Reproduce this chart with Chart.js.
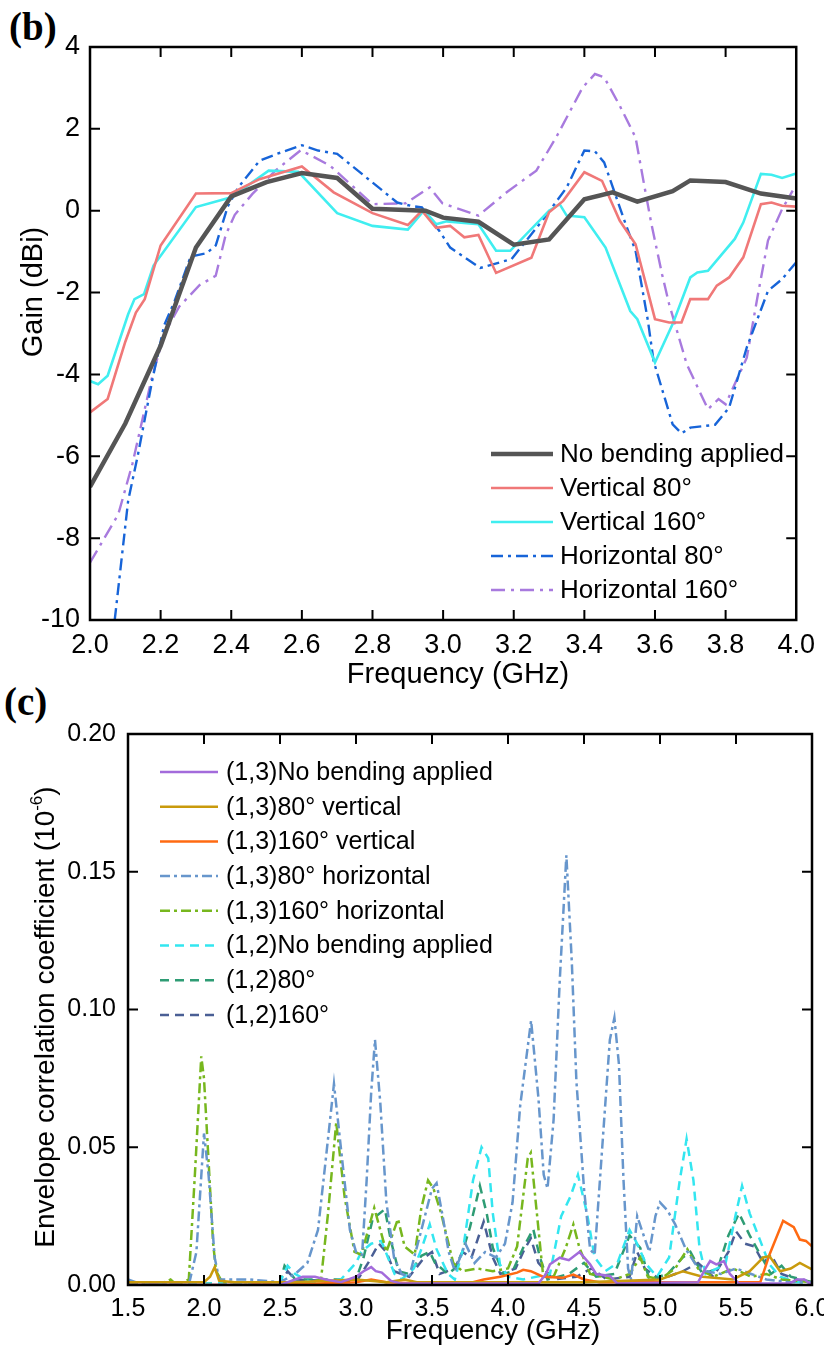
<!DOCTYPE html>
<html>
<head>
<meta charset="utf-8">
<script src="https://cdn.jsdelivr.net/npm/chart.js@4.4.1/dist/chart.umd.min.js"></script>
<style>
  html, body { margin: 0; padding: 0; background: #fff; overflow: hidden; }
  body { width: 824px; height: 1348px; position: relative; }
  canvas { position: absolute; left: 0; }
  .panel { position: absolute; font-family: "Liberation Serif", "Times New Roman", serif; font-weight: bold; font-size: 39px; line-height: 39px; color: #000; }
</style>
</head>
<body>
<div class="panel" style="left:9px; top:7px;">(b)</div>
<div class="panel" style="left:4px; top:682px;">(c)</div>
<canvas id="gain" width="824" height="700" style="top:0; width:824px; height:700px;"></canvas>
<canvas id="ecc" width="840" height="658" style="top:690px; width:840px; height:658px;"></canvas>
<script>
// ---------- (b) gain vs frequency ----------
var gainTicksX = [2.0, 2.2, 2.4, 2.6, 2.8, 3.0, 3.2, 3.4, 3.6, 3.8, 4.0];
var gainTicksY = [-10, -8, -6, -4, -2, 0, 2, 4];

var fNoBend = [2.0, 2.1, 2.2, 2.3, 2.4, 2.5, 2.6, 2.7, 2.8, 2.95, 3.0, 3.1, 3.2, 3.3, 3.4, 3.48, 3.55, 3.65, 3.7, 3.8, 3.9, 4.0];
var gNoBend = [-6.75, -5.2, -3.3, -0.9, 0.35, 0.7, 0.92, 0.8, 0.05, 0.0, -0.17, -0.27, -0.83, -0.7, 0.28, 0.45, 0.22, 0.48, 0.74, 0.7, 0.42, 0.3];

var fVert80 = [2.0, 2.05, 2.1, 2.13, 2.155, 2.2, 2.3, 2.4, 2.48, 2.6, 2.69, 2.8, 2.9, 2.94, 2.98, 3.02, 3.06, 3.1, 3.15, 3.25, 3.3, 3.34, 3.4, 3.45, 3.5, 3.545, 3.6, 3.64, 3.675, 3.7, 3.75, 3.775, 3.81, 3.85, 3.9, 3.93, 3.96, 4.0];
var gVert80 = [-4.93, -4.6, -3.2, -2.49, -2.16, -0.85, 0.42, 0.43, 0.77, 1.08, 0.45, -0.06, -0.35, 0.0, -0.42, -0.37, -0.65, -0.59, -1.52, -1.15, -0.04, 0.24, 0.94, 0.73, -0.24, -0.82, -2.65, -2.73, -2.73, -2.16, -2.16, -1.83, -1.63, -1.14, 0.16, 0.2, 0.12, 0.1];

var fVert160 = [2.0, 2.023, 2.05, 2.108, 2.126, 2.153, 2.18, 2.3, 2.4, 2.506, 2.59, 2.7, 2.8, 2.9, 2.946, 2.98, 3.01, 3.1, 3.15, 3.19, 3.3, 3.33, 3.35, 3.4, 3.46, 3.53, 3.55, 3.6, 3.65, 3.7, 3.72, 3.75, 3.826, 3.85, 3.9, 3.93, 3.96, 4.0];
var gVert160 = [-4.16, -4.24, -4.03, -2.53, -2.16, -2.04, -1.34, 0.09, 0.33, 0.98, 0.95, -0.06, -0.37, -0.46, 0.01, -0.33, -0.26, -0.33, -0.98, -0.98, 0.0, 0.16, -0.12, -0.16, -0.9, -2.45, -2.65, -3.71, -2.77, -1.63, -1.51, -1.47, -0.69, -0.29, 0.9, 0.88, 0.8, 0.91];

var fHor80 = [2.07, 2.108, 2.136, 2.178, 2.21, 2.24, 2.285, 2.33, 2.356, 2.39, 2.42, 2.48, 2.53, 2.6, 2.646, 2.7, 2.8, 2.87, 2.908, 2.94, 2.99, 3.02, 3.105, 3.194, 3.29, 3.35, 3.4, 3.43, 3.456, 3.517, 3.545, 3.58, 3.596, 3.65, 3.675, 3.7, 3.77, 3.81, 3.86, 3.92, 3.96, 4.0];
var gHor80 = [-10.0, -7.09, -5.95, -4.07, -2.8, -2.2, -1.12, -1.04, -0.85, 0.1, 0.57, 1.22, 1.39, 1.6, 1.47, 1.39, 0.69, 0.2, 0.12, 0.08, -0.5, -0.9, -1.4, -1.18, -0.14, 0.57, 1.47, 1.45, 1.18, -0.33, -0.98, -2.69, -3.67, -5.22, -5.44, -5.3, -5.23, -4.81, -3.34, -1.96, -1.67, -1.26];

var fHor160 = [2.0, 2.08, 2.12, 2.173, 2.21, 2.253, 2.31, 2.356, 2.384, 2.41, 2.46, 2.525, 2.597, 2.68, 2.8, 2.894, 2.962, 2.998, 3.1, 3.18, 3.264, 3.32, 3.395, 3.43, 3.456, 3.5, 3.545, 3.57, 3.59, 3.62, 3.64, 3.69, 3.75, 3.78, 3.8, 3.86, 3.89, 3.92, 3.96, 3.99];
var gHor160 = [-8.6, -7.42, -6.19, -4.16, -3.01, -2.34, -1.82, -1.59, -0.6, -0.1, 0.41, 0.98, 1.48, 1.1, 0.16, 0.18, 0.57, 0.18, -0.12, 0.45, 0.98, 1.79, 3.01, 3.34, 3.26, 2.57, 1.79, 0.6, -0.33, -1.55, -2.28, -3.75, -4.85, -4.6, -4.73, -3.59, -2.12, -0.73, 0.04, 0.49];

// ---------- (c) envelope correlation coefficient ----------
var eccTicksX = [1.5, 2.0, 2.5, 3.0, 3.5, 4.0, 4.5, 5.0, 5.5, 6.0];
var eccTicksY = [0.00, 0.05, 0.10, 0.15, 0.20];

var fE13NoBend = [1.5, 2.5, 2.6, 2.65, 2.73, 2.8, 2.9, 3.0, 3.05, 3.1, 3.13, 3.17, 3.23, 3.3, 4.2, 4.25, 4.276, 4.34, 4.4, 4.47, 4.54, 4.58, 4.67, 4.72, 5.25, 5.3, 5.33, 5.37, 5.42, 5.46, 5.52, 5.85, 5.9, 5.95, 6.0];
var eE13NoBend = [0.0, 0.0, 0.002, 0.003, 0.003, 0.002, 0.001, 0.003, 0.005, 0.0065, 0.005, 0.0045, 0.0015, 0.0005, 0.0005, 0.004, 0.0075, 0.0099, 0.009, 0.012, 0.0075, 0.004, 0.0033, 0.0005, 0.001, 0.006, 0.0087, 0.0075, 0.0087, 0.004, 0.0005, 0.0005, 0.002, 0.002, 0.0];

var fE13V80 = [1.5, 1.95, 2.0, 2.04, 2.07, 2.1, 2.2, 2.6, 3.0, 3.2, 3.32, 3.4, 4.0, 4.5, 5.0, 5.15, 5.28, 5.48, 5.59, 5.68, 5.72, 5.79, 5.86, 5.92, 6.0];
var eE13V80 = [0.001, 0.001, 0.001, 0.003, 0.0065, 0.0015, 0.001, 0.001, 0.002, 0.001, 0.002, 0.001, 0.001, 0.001, 0.002, 0.005, 0.003, 0.002, 0.005, 0.01, 0.0105, 0.005, 0.006, 0.008, 0.0057];

var fE13V160 = [1.5, 2.3, 2.38, 2.45, 3.0, 3.1, 3.2, 3.7, 3.84, 3.95, 4.06, 4.1, 4.15, 4.23, 4.36, 4.43, 4.5, 4.6, 5.66, 5.72, 5.81, 5.88, 5.92, 5.96, 6.0];
var eE13V160 = [0.0, 0.0, 0.001, 0.0, 0.001, 0.002, 0.001, 0.0, 0.002, 0.003, 0.0045, 0.0055, 0.005, 0.003, 0.0026, 0.0038, 0.002, 0.001, 0.001, 0.011, 0.0233, 0.021, 0.0165, 0.016, 0.014];

var fE13H80 = [1.5, 1.55, 1.9, 1.95, 2.0, 2.03, 2.07, 2.1, 2.3, 2.5, 2.6, 2.68, 2.75, 2.8, 2.855, 2.91, 2.96, 3.0, 3.04, 3.07, 3.1, 3.125, 3.16, 3.2, 3.25, 3.3, 3.35, 3.43, 3.5, 3.53, 3.57, 3.61, 3.65, 3.72, 3.78, 3.85, 3.92, 3.98, 4.03, 4.08, 4.152, 4.2, 4.235, 4.26, 4.3, 4.34, 4.384, 4.42, 4.45, 4.5, 4.54, 4.57, 4.62, 4.67, 4.7, 4.73, 4.76, 4.79, 4.81, 4.85, 4.88, 4.93, 4.97, 5.0, 5.05, 5.1, 5.17, 5.24, 5.3, 5.4, 5.5, 5.6, 5.7, 5.85, 6.0];
var eE13H80 = [0.002, 0.001, 0.0, 0.012, 0.055, 0.04, 0.01, 0.002, 0.002, 0.001, 0.004, 0.008, 0.02, 0.045, 0.073, 0.045, 0.02, 0.012, 0.011, 0.038, 0.07, 0.089, 0.066, 0.03, 0.01, 0.004, 0.003, 0.02, 0.035, 0.037, 0.025, 0.012, 0.005, 0.015, 0.008, 0.012, 0.01, 0.015, 0.03, 0.065, 0.096, 0.068, 0.04, 0.035, 0.06, 0.11, 0.156, 0.117, 0.074, 0.035, 0.013, 0.011, 0.05, 0.089, 0.097, 0.08, 0.038, 0.006, 0.002, 0.025, 0.02, 0.012, 0.025, 0.03, 0.027, 0.022, 0.013, 0.007, 0.005, 0.004, 0.006, 0.004, 0.002, 0.001, 0.001];

var fE13H160 = [1.5, 1.7, 1.78, 1.82, 1.9, 1.94, 1.982, 2.0, 2.03, 2.06, 2.08, 2.12, 2.5, 2.7, 2.77, 2.816, 2.87, 2.925, 2.99, 3.035, 3.08, 3.12, 3.2, 3.276, 3.32, 3.386, 3.43, 3.474, 3.51, 3.56, 3.64, 3.7, 3.8, 3.9, 4.0, 4.06, 4.13, 4.15, 4.19, 4.23, 4.3, 4.38, 4.43, 4.47, 4.54, 4.7, 4.8, 4.87, 4.92, 5.0, 5.1, 5.18, 5.25, 5.35, 5.48, 5.6, 5.7, 5.8, 6.0];
var eE13H160 = [0.001, 0.0, 0.002, 0.0, 0.002, 0.04, 0.083, 0.075, 0.045, 0.015, 0.005, 0.001, 0.001, 0.001, 0.002, 0.026, 0.059, 0.032, 0.012, 0.011, 0.02, 0.028, 0.012, 0.024, 0.014, 0.011, 0.028, 0.038, 0.035, 0.026, 0.008, 0.005, 0.006, 0.005, 0.006, 0.014, 0.046, 0.048, 0.026, 0.004, 0.003, 0.0135, 0.022, 0.0135, 0.004, 0.002, 0.004, 0.01, 0.003, 0.002, 0.006, 0.013, 0.006, 0.003, 0.006, 0.003, 0.004, 0.002, 0.001];

var fE12NoBend = [1.5, 2.5, 2.55, 2.6, 2.7, 2.9, 3.0, 3.035, 3.1, 3.167, 3.21, 3.254, 3.3, 3.38, 3.43, 3.485, 3.53, 3.605, 3.65, 3.706, 3.77, 3.826, 3.87, 3.9, 3.947, 4.0, 4.1, 4.276, 4.35, 4.41, 4.46, 4.52, 4.57, 4.64, 4.72, 4.8, 4.84, 4.91, 4.98, 5.06, 5.13, 5.175, 5.22, 5.26, 5.3, 5.43, 5.5, 5.54, 5.59, 5.66, 5.72, 5.79, 5.9, 6.0];
var eE12NoBend = [0.0, 0.001, 0.007, 0.004, 0.001, 0.002, 0.008, 0.012, 0.015, 0.016, 0.01, 0.004, 0.002, 0.006, 0.013, 0.022, 0.013, 0.004, 0.002, 0.0135, 0.038, 0.05, 0.046, 0.026, 0.0075, 0.003, 0.002, 0.004, 0.025, 0.032, 0.04, 0.026, 0.01, 0.005, 0.008, 0.02, 0.016, 0.0075, 0.003, 0.01, 0.038, 0.053, 0.038, 0.0135, 0.004, 0.0075, 0.026, 0.036, 0.026, 0.016, 0.0075, 0.003, 0.001, 0.001];

var fE12B80 = [1.5, 2.5, 2.53, 2.56, 2.6, 3.0, 3.05, 3.11, 3.19, 3.23, 3.28, 3.35, 3.43, 3.485, 3.52, 3.605, 3.65, 3.7, 3.75, 3.815, 3.86, 3.9, 3.97, 4.03, 4.1, 4.166, 4.21, 4.26, 4.4, 4.5, 4.58, 4.7, 4.8, 4.87, 4.93, 5.05, 5.15, 5.2, 5.28, 5.38, 5.45, 5.52, 5.59, 5.66, 5.73, 5.8, 5.86, 6.0];
var eE12B80 = [0.0, 0.001, 0.007, 0.005, 0.002, 0.002, 0.01, 0.024, 0.0275, 0.016, 0.005, 0.004, 0.0106, 0.012, 0.008, 0.004, 0.006, 0.012, 0.021, 0.036, 0.026, 0.0135, 0.004, 0.005, 0.0135, 0.0203, 0.01, 0.002, 0.004, 0.008, 0.003, 0.004, 0.018, 0.0135, 0.002, 0.004, 0.01, 0.012, 0.004, 0.006, 0.018, 0.026, 0.018, 0.011, 0.004, 0.007, 0.003, 0.001];

var fE12B160 = [1.5, 2.5, 2.55, 2.6, 3.0, 3.08, 3.15, 3.2, 3.25, 3.35, 3.45, 3.5, 3.55, 3.65, 3.7, 3.76, 3.84, 3.9, 3.95, 4.05, 4.1, 4.15, 4.2, 4.3, 4.45, 4.55, 4.65, 4.8, 4.85, 4.9, 5.0, 5.15, 5.25, 5.35, 5.45, 5.5, 5.56, 5.62, 5.68, 5.73, 5.8, 5.9, 6.0];
var eE12B160 = [0.0, 0.0, 0.005, 0.002, 0.001, 0.008, 0.015, 0.012, 0.005, 0.003, 0.01, 0.012, 0.004, 0.006, 0.012, 0.01, 0.023, 0.01, 0.004, 0.006, 0.012, 0.017, 0.008, 0.002, 0.003, 0.006, 0.002, 0.003, 0.012, 0.006, 0.002, 0.005, 0.008, 0.003, 0.012, 0.0195, 0.015, 0.014, 0.008, 0.011, 0.004, 0.002, 0.0];

function pts(fs, vs) {
  return fs.map(function (f, i) { return { x: f, y: vs[i] }; });
}

// frame, inward ticks, legend and axis titles drawn on top of the plot
var decor = {
  id: 'decor',
  afterDraw: function (chart, args, o) {
    var ctx = chart.ctx, a = chart.chartArea;
    var sx = chart.scales.x, sy = chart.scales.y;
    ctx.save();
    ctx.setLineDash([]);
    ctx.strokeStyle = '#000';
    ctx.lineWidth = 2;
    ctx.beginPath();
    sx.ticks.forEach(function (t) {
      var px = sx.getPixelForValue(t.value);
      if (px < a.left + 2 || px > a.right - 2) return;
      ctx.moveTo(px, a.bottom); ctx.lineTo(px, a.bottom - o.tickLen);
      ctx.moveTo(px, a.top); ctx.lineTo(px, a.top + o.tickLen);
    });
    sy.ticks.forEach(function (t) {
      var py = sy.getPixelForValue(t.value);
      if (py < a.top + 2 || py > a.bottom - 2) return;
      ctx.moveTo(a.left, py); ctx.lineTo(a.left + o.tickLen, py);
      ctx.moveTo(a.right, py); ctx.lineTo(a.right - o.tickLen, py);
    });
    ctx.stroke();
    ctx.lineWidth = 2.5;
    ctx.strokeRect(a.left, a.top, a.right - a.left, a.bottom - a.top);

    // legend
    var lg = o.legend;
    ctx.font = lg.font;
    ctx.textBaseline = 'middle';
    ctx.textAlign = 'left';
    chart.data.datasets.forEach(function (ds, i) {
      var yy = lg.y0 + i * lg.dy;
      ctx.setLineDash(ds.borderDash || []);
      ctx.strokeStyle = ds.borderColor;
      ctx.lineWidth = ds.borderWidth;
      ctx.beginPath();
      ctx.moveTo(lg.x0, yy); ctx.lineTo(lg.x1, yy);
      ctx.stroke();
      ctx.fillStyle = '#000';
      ctx.fillText(ds.label, lg.tx, yy + 1);
    });
    ctx.setLineDash([]);

    // axis titles
    ctx.fillStyle = '#000';
    ctx.font = o.titleFont;
    ctx.textAlign = 'center';
    ctx.fillText(o.xTitle.text, o.xTitle.x, o.xTitle.y);
    var parts = o.yTitle.parts;
    var supFont = o.supFont;
    var widths = parts.map(function (p) {
      ctx.font = p.sup ? supFont : o.titleFont;
      return ctx.measureText(p.t).width;
    });
    var total = widths.reduce(function (s, w) { return s + w; }, 0);
    ctx.translate(o.yTitle.x, o.yTitle.y);
    ctx.rotate(-Math.PI / 2);
    ctx.textAlign = 'left';
    var cx = -total / 2;
    parts.forEach(function (p, i) {
      ctx.font = p.sup ? supFont : o.titleFont;
      ctx.fillText(p.t, cx, p.sup ? -9 : 0);
      cx += widths[i];
    });
    ctx.restore();
  }
};

var gainChart = new Chart(document.getElementById('gain'), {
  type: 'line',
  data: {
    datasets: [
      { label: 'No bending applied', data: pts(fNoBend, gNoBend), borderColor: '#555555', borderWidth: 4.5 },
      { label: 'Vertical 80\u00b0', data: pts(fVert80, gVert80), borderColor: '#f07878', borderWidth: 2.6 },
      { label: 'Vertical 160\u00b0', data: pts(fVert160, gVert160), borderColor: '#40eef0', borderWidth: 2.6 },
      { label: 'Horizontal 80\u00b0', data: pts(fHor80, gHor80), borderColor: '#1764d8', borderWidth: 2.4, borderDash: [12, 5, 3, 5] },
      { label: 'Horizontal 160\u00b0', data: pts(fHor160, gHor160), borderColor: '#a87ade', borderWidth: 2.4, borderDash: [14, 6, 3, 6] }
    ]
  },
  options: {
    responsive: false,
    animation: false,
    layout: { padding: { top: 47, right: 21, left: 0, bottom: 0 } },
    elements: { point: { radius: 0 }, line: { tension: 0, fill: false } },
    plugins: {
      legend: { display: false },
      tooltip: { enabled: false },
      decor: {
        tickLen: 10,
        legend: { x0: 491, x1: 553, tx: 560, y0: 454, dy: 34, font: '26px "Liberation Sans", Arial, sans-serif' },
        titleFont: '29px "Liberation Sans", Arial, sans-serif',
        supFont: '18px "Liberation Sans", Arial, sans-serif',
        xTitle: { text: 'Frequency (GHz)', x: 458, y: 675 },
        yTitle: { parts: [{ t: 'Gain (dBi)' }], x: 34, y: 292 }
      }
    },
    scales: {
      x: {
        type: 'linear', min: 2, max: 4,
        afterBuildTicks: function (s) { s.ticks = gainTicksX.map(function (v) { return { value: v }; }); },
        afterFit: function (s) { s.height = 80; },
        grid: { display: false, drawTicks: false }, border: { display: false },
        ticks: { padding: 9, color: '#000', maxRotation: 0, autoSkip: false, font: { family: '"Liberation Sans", Arial, sans-serif', size: 27 }, callback: function (v) { return v.toFixed(1); } }
      },
      y: {
        type: 'linear', min: -10, max: 4,
        afterBuildTicks: function (s) { s.ticks = gainTicksY.map(function (v) { return { value: v }; }); },
        afterFit: function (s) { s.width = 90; },
        grid: { display: false, drawTicks: false }, border: { display: false },
        ticks: { padding: 10, color: '#000', autoSkip: false, font: { family: '"Liberation Sans", Arial, sans-serif', size: 27 }, callback: function (v) { return String(v); } }
      }
    }
  },
  plugins: [decor]
});

var eccChart = new Chart(document.getElementById('ecc'), {
  type: 'line',
  data: {
    datasets: [
      { label: '(1,3)No bending applied', data: pts(fE13NoBend, eE13NoBend), borderColor: '#a36bdb', borderWidth: 2.5 },
      { label: '(1,3)80\u00b0 vertical', data: pts(fE13V80, eE13V80), borderColor: '#c99a0c', borderWidth: 2.5 },
      { label: '(1,3)160\u00b0 vertical', data: pts(fE13V160, eE13V160), borderColor: '#ff6a12', borderWidth: 2.5 },
      { label: '(1,3)80\u00b0 horizontal', data: pts(fE13H80, eE13H80), borderColor: '#6796cc', borderWidth: 2.5, borderDash: [10, 4, 3, 4] },
      { label: '(1,3)160\u00b0 horizontal', data: pts(fE13H160, eE13H160), borderColor: '#77b71e', borderWidth: 2.5, borderDash: [10, 4, 3, 4] },
      { label: '(1,2)No bending applied', data: pts(fE12NoBend, eE12NoBend), borderColor: '#33e6f0', borderWidth: 2.5, borderDash: [9, 6] },
      { label: '(1,2)80\u00b0', data: pts(fE12B80, eE12B80), borderColor: '#2e9c74', borderWidth: 2.5, borderDash: [9, 6] },
      { label: '(1,2)160\u00b0', data: pts(fE12B160, eE12B160), borderColor: '#4a5f95', borderWidth: 2.5, borderDash: [9, 6] }
    ]
  },
  options: {
    responsive: false,
    animation: false,
    layout: { padding: { top: 44, right: 28, left: 0, bottom: 0 } },
    elements: { point: { radius: 0 }, line: { tension: 0, fill: false } },
    plugins: {
      legend: { display: false },
      tooltip: { enabled: false },
      decor: {
        tickLen: 10,
        legend: { x0: 160, x1: 218, tx: 226, y0: 82, dy: 34.7, font: '25px "Liberation Sans", Arial, sans-serif' },
        titleFont: '28px "Liberation Sans", Arial, sans-serif',
        supFont: '17px "Liberation Sans", Arial, sans-serif',
        xTitle: { text: 'Frequency (GHz)', x: 493, y: 641 },
        yTitle: { parts: [{ t: 'Envelope correlation coefficient (10' }, { t: '-6', sup: true }, { t: ')' }], x: 46, y: 327 }
      }
    },
    scales: {
      x: {
        type: 'linear', min: 1.5, max: 6,
        afterBuildTicks: function (s) { s.ticks = eccTicksX.map(function (v) { return { value: v }; }); },
        afterFit: function (s) { s.height = 63; },
        grid: { display: false, drawTicks: false }, border: { display: false },
        ticks: { padding: 9, color: '#000', maxRotation: 0, autoSkip: false, font: { family: '"Liberation Sans", Arial, sans-serif', size: 25 }, callback: function (v) { return v.toFixed(1); } }
      },
      y: {
        type: 'linear', min: 0, max: 0.2,
        afterBuildTicks: function (s) { s.ticks = eccTicksY.map(function (v) { return { value: v }; }); },
        afterFit: function (s) { s.width = 128; },
        grid: { display: false, drawTicks: false }, border: { display: false },
        ticks: { padding: 12, color: '#000', autoSkip: false, font: { family: '"Liberation Sans", Arial, sans-serif', size: 25 }, callback: function (v) { return v.toFixed(2); } }
      }
    }
  },
  plugins: [decor]
});
</script>
</body>
</html>
